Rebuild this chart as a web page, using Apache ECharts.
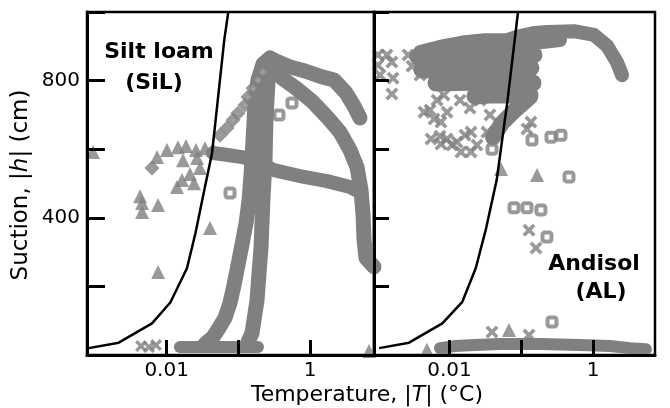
<!DOCTYPE html>
<html>
<head>
<meta charset="utf-8">
<script src="https://cdn.jsdelivr.net/npm/echarts@6/dist/echarts.min.js"></script>
<style>
  html, body { margin: 0; padding: 0; background: #fff; }
  #chart { width: 670px; height: 408px; }
</style>
</head>
<body>
<div id="chart"></div>
<script>
// temperature ranges of the two panels (log10 of |T| in degC)
const silRange = [-3.11, 0.89];
const alRange = [-3.05, 0.86];
const xTickValues = [0.01, 0.1, 1];
const xLabelValues = [0.01, 1];
const yLabelValues = [400, 800];

// black curves [T, h]
const silCurve = [[0.00082,20],[0.00215,36],[0.00625,92],[0.01125,153],[0.0192,253],[0.0252,355],[0.0335,481],[0.0429,588],[0.0635,918],[0.0723,1000]];
const alCurve = [[0.00105,20],[0.00274,36],[0.00796,92],[0.0151,155],[0.0232,253],[0.0319,364],[0.0454,510],[0.0638,737],[0.0899,1000]];

// silt loam: dense measurement tracks
const silBottomRun = [[0.0153,23],[0.1875,23]];
const silTrack1 = [[0.0343,32],[0.0443,52],[0.0537,79],[0.065,108],[0.0764,152],[0.0869,204],[0.0987,262],[0.112,321],[0.128,385],[0.141,452],[0.15,525],[0.16,627],[0.17,729],[0.1875,802],[0.22,848],[0.276,866],[0.357,854],[0.524,840],[0.847,828],[1.37,813],[2.15,802],[3.16,764],[4.08,726],[4.95,691]];
const silTrack2 = [[0.136,38],[0.155,64],[0.165,102],[0.182,160],[0.194,239],[0.207,315],[0.213,385],[0.22,452],[0.235,568],[0.242,685],[0.259,802],[0.276,854],[0.406,807],[0.635,778],[1.06,740],[1.72,694],[2.61,650],[3.59,598],[4.5,548],[5.12,481],[5.46,408],[5.64,335],[6.01,283],[7.76,257]];
const silTrack3 = [[0.0443,589],[0.0716,583],[0.112,577],[0.176,566],[0.313,539],[0.82,519],[1.72,507],[3.59,490],[4.95,475]];

// silt loam: single markers
const silDiamonds = [[0.00625,545],[0.0555,641],[0.0694,662],[0.0841,685],[0.0987,705],[0.1236,729],[0.1361,752],[0.16,778],[0.1875,802],[0.2203,825]];
const silTriangles = [[0.000942,592],[0.00735,577],[0.01012,598],[0.01439,606],[0.01862,609],[0.02564,598],[0.03427,603],[0.04426,600],[0.0169,568],[0.02649,574],[0.01637,510],[0.02118,528],[0.02917,545],[0.01393,490],[0.02404,501],[0.00426,463],[0.00454,417],[0.00454,443],[0.00759,437],[0.0402,370],[0.00759,242],[6.61,12]];
const silSquares = [[0.558,735],[0.368,700],[0.0764,472]];
const silCrosses = [[0.0044,26],[0.00568,23],[0.00711,29]];

// andisol: dense tracks
const alArc = [[0.00389,883],[0.00738,898],[0.01644,912],[0.0312,918],[0.0631,918],[0.0957,930],[0.155,939],[0.228,942],[0.541,944],[1.03,933],[1.56,901],[2.14,854],[2.52,816]];
const alHead = [[0.0816,901],[0.182,912],[0.345,918]];
const alRow1 = [[0.00365,869],[0.014,872],[0.0505,875],[0.15,875]];
const alRow2 = [[0.00415,831],[0.0193,834],[0.136,837]];
const alRow3 = [[0.0065,793],[0.0266,796],[0.145,793]];
const alRow4 = [[0.0226,755],[0.0366,758],[0.132,758]];
const alDiag = [[0.132,752],[0.0816,714],[0.0538,676],[0.0404,635]];
const alBottom = [[0.00738,20],[0.0119,26],[0.0226,29],[0.0505,32],[0.182,32],[0.655,29],[1.71,26],[3.25,20],[5.42,17]];

// andisol: single markers
const alCrosses = [[0.00101,875],[0.00135,875],[0.00101,845],[0.00158,854],[0.00108,816],[0.00164,807],[0.00158,761],[0.00265,875],[0.00301,842],[0.00389,816],[0.00442,708],[0.00536,714],[0.0061,688],[0.00671,743],[0.00925,708],[0.00839,758],[0.00553,630],[0.00738,638],[0.00925,630],[0.01084,612],[0.01274,621],[0.01644,641],[0.01995,650],[0.01995,592],[0.02415,612],[0.03327,650],[0.01932,720],[0.02661,743],[0.01403,743],[0.1361,679],[0.1199,659],[0.1279,364],[0.16,312],[0.03908,67],[0.1279,58],[0.00762,679],[0.01446,592],[0.00762,615],[0.0366,700],[0.0505,670],[0.043,641]];
const alSquares = [[0.0391,600],[0.1406,627],[0.2588,635],[0.3565,641],[0.4603,519],[0.0791,429],[0.1199,429],[0.1875,423],[0.2275,344],[0.2673,96]];
const alTriangles = [[0.0521,542],[0.1652,525],[0.0673,73],[0.00486,15],[0.00839,15]];

const gray = '#808080';
const font = '"DejaVu Sans", Arial, sans-serif';
const crossPath = 'path://M0,2 L2,0 L5,3 L8,0 L10,2 L7,5 L10,8 L8,10 L5,7 L2,10 L0,8 L3,5 Z';

function band(data, idx, width) {
  return {
    type: 'line', xAxisIndex: idx, yAxisIndex: idx, data: data,
    symbol: 'none', silent: true, z: 2,
    lineStyle: { color: gray, width: width || 15, cap: 'round', join: 'round' }
  };
}
function marks(data, idx, symbol, size, border) {
  return {
    type: 'scatter', xAxisIndex: idx, yAxisIndex: idx, data: data,
    symbol: symbol, symbolSize: size, silent: true, z: 3,
    itemStyle: border
      ? { color: '#fff', borderColor: gray, borderWidth: border }
      : { color: gray }
  };
}
function curve(data, idx) {
  return {
    type: 'line', xAxisIndex: idx, yAxisIndex: idx, data: data,
    symbol: 'none', silent: true, z: 4,
    lineStyle: { color: '#000', width: 2.5 }
  };
}

function xAxis(idx, range) {
  return {
    type: 'log', gridIndex: idx, z: 5,
    min: Math.pow(10, range[0]), max: Math.pow(10, range[1]),
    axisLine: { show: true, lineStyle: { color: '#000', width: 3 } },
    axisTick: { show: true, inside: true, length: 15, customValues: xTickValues,
      lineStyle: { color: '#000', width: 3 } },
    splitLine: { show: false },
    minorTick: { show: false },
    axisLabel: { show: true, customValues: xLabelValues, margin: 6,
      color: '#000', fontSize: 20, fontFamily: font,
      formatter: v => (Math.abs(v - 0.01) < 1e-6 ? '0.01' : Math.abs(v - 1) < 1e-6 ? '1' : '') }
  };
}
function yAxis(idx, showLabels, tickLen) {
  return {
    type: 'value', gridIndex: idx, z: 5,
    min: 0, max: 1000, interval: 200,
    axisLine: { show: true, lineStyle: { color: '#000', width: 3 } },
    axisTick: { show: true, inside: true, length: tickLen, lineStyle: { color: '#000', width: 3 } },
    splitLine: { show: false },
    axisLabel: { show: showLabels, customValues: yLabelValues, margin: 7,
      color: '#000', fontSize: 20, fontFamily: font }
  };
}

const chart = echarts.init(document.getElementById('chart'), null, { renderer: 'canvas' });
chart.setOption({
  animation: false,
  backgroundColor: '#fff',
  grid: [
    { left: 87, top: 12, width: 287, height: 343, show: true, borderColor: '#000', borderWidth: 2.5 },
    { left: 374, top: 12, width: 281, height: 343, show: true, borderColor: '#000', borderWidth: 2.5 }
  ],
  xAxis: [xAxis(0, silRange), xAxis(1, alRange)],
  yAxis: [yAxis(0, true, 18), yAxis(1, false, 15)],
  series: [
    band(silBottomRun, 0, 12),
    band(silTrack1, 0), band(silTrack2, 0), band(silTrack3, 0, 14),
    marks(silCrosses, 0, crossPath, 12),
    marks(silTriangles, 0, 'triangle', 14),
    marks(silDiamonds, 0, 'diamond', 8, 5),
    marks(silSquares, 0, 'roundRect', 9, 4),
    curve(silCurve, 0),

    band(alArc, 1, 14), band(alHead, 1, 14),
    band(alRow1, 1, 17), band(alRow2, 1, 17), band(alRow3, 1, 17), band(alRow4, 1, 17), band(alDiag, 1, 16),
    band(alBottom, 1, 12),
    marks(alCrosses, 1, crossPath, 13),
    marks(alTriangles, 1, 'triangle', 14),
    marks(alSquares, 1, 'roundRect', 9, 4),
    curve(alCurve, 1)
  ],
  graphic: [
    { type: 'text', x: 159, y: 52, z: 10,
      style: { text: 'Silt loam', font: 'bold 22px ' + font, fill: '#000', align: 'center', verticalAlign: 'middle' } },
    { type: 'text', x: 154, y: 83, z: 10,
      style: { text: '(SiL)', font: 'bold 22px ' + font, fill: '#000', align: 'center', verticalAlign: 'middle' } },
    { type: 'text', x: 594, y: 264, z: 10,
      style: { text: 'Andisol', font: 'bold 22px ' + font, fill: '#000', align: 'center', verticalAlign: 'middle' } },
    { type: 'text', x: 601, y: 292, z: 10,
      style: { text: '(AL)', font: 'bold 22px ' + font, fill: '#000', align: 'center', verticalAlign: 'middle' } },
    { type: 'text', x: 367, y: 395, z: 10,
      style: { text: 'Temperature, |{i|T}| (°C)', font: '22px ' + font, fill: '#000', align: 'center', verticalAlign: 'middle',
        rich: { i: { fontStyle: 'italic', fontSize: 22, fontFamily: font, fill: '#000' } } } },
    { type: 'text', x: 21, y: 185, rotation: Math.PI / 2, z: 10,
      style: { text: 'Suction, |{i|h}| (cm)', font: '23px ' + font, fill: '#000', align: 'center', verticalAlign: 'middle',
        rich: { i: { fontStyle: 'italic', fontSize: 23, fontFamily: font, fill: '#000' } } } }
  ]
});
</script>
</body>
</html>
